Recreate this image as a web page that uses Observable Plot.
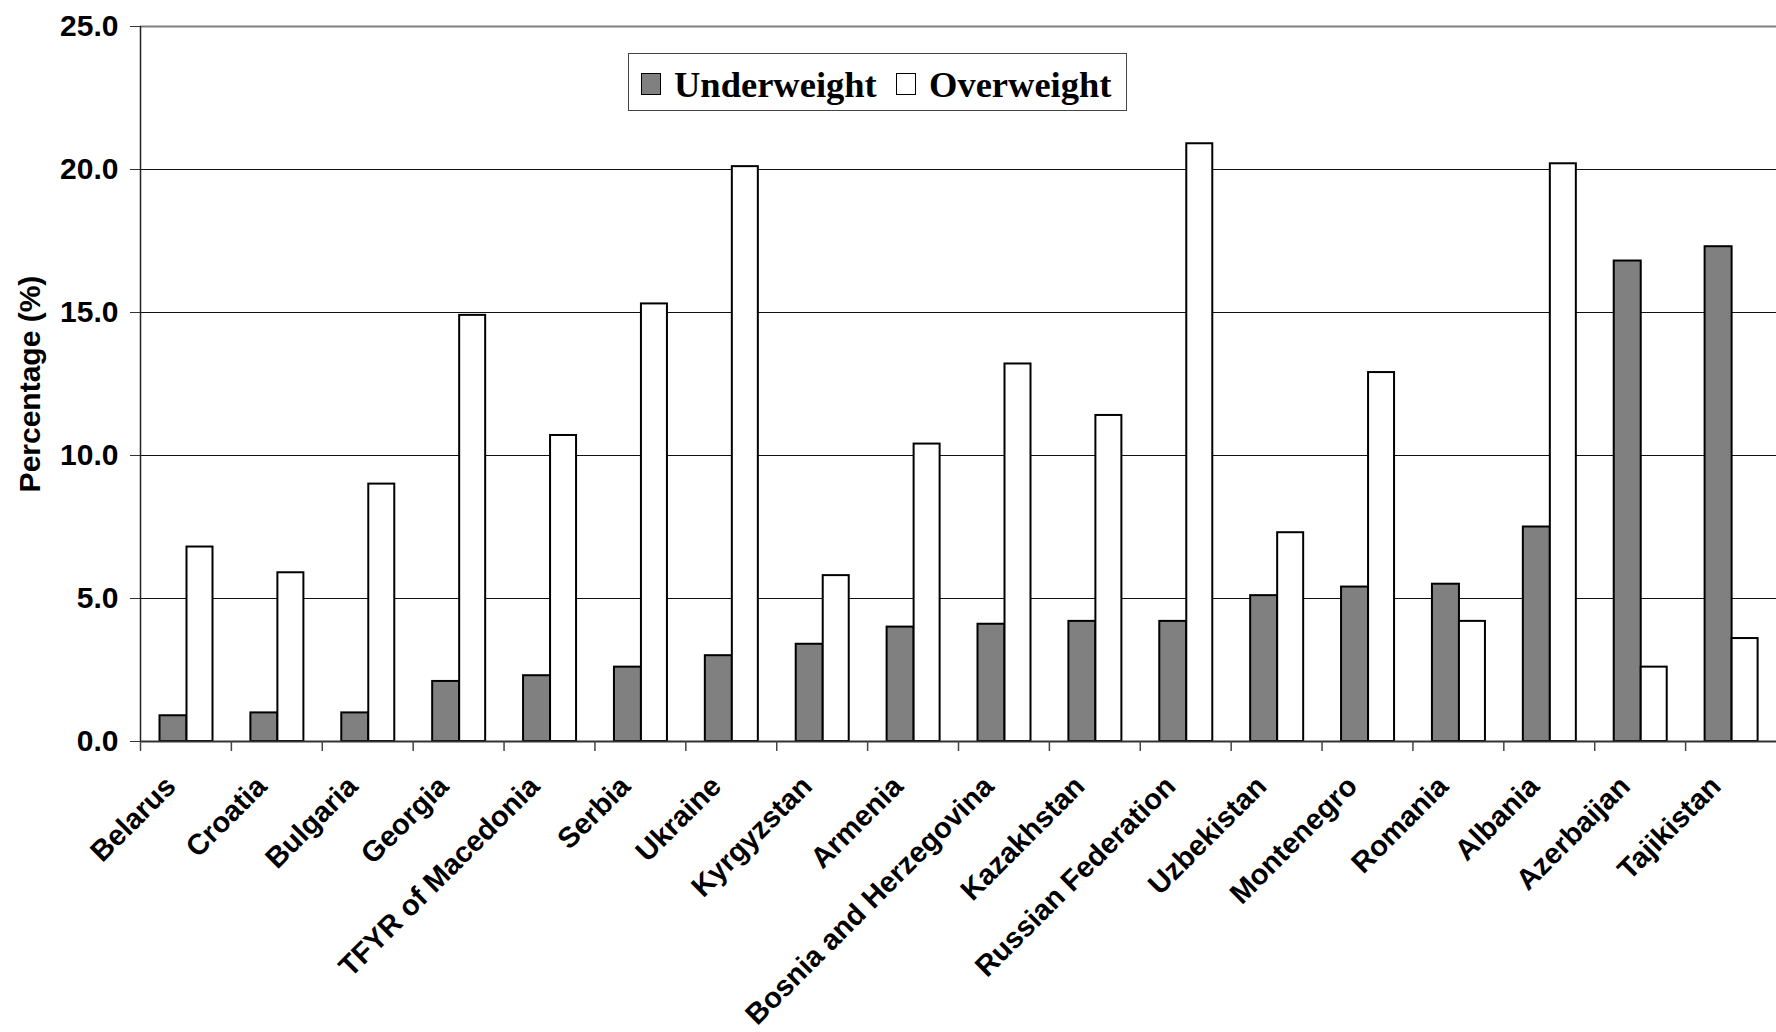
<!DOCTYPE html>
<html>
<head>
<meta charset="utf-8">
<script src="https://cdn.jsdelivr.net/npm/d3@7"></script>
<script src="https://cdn.jsdelivr.net/npm/@observablehq/plot@0.6"></script>
<style>
  html, body { margin: 0; padding: 0; background: #fff; }
  #chart { position: relative; width: 1776px; height: 1032px; }
  #legend {
    position: absolute; left: 628px; top: 53px; width: 497px; height: 56px;
    border: 1.5px solid #444; background: #fff;
    font-family: "Liberation Serif", "Times New Roman", serif; font-weight: bold; font-size: 36.5px;
  }
  #legend .sw { position: absolute; top: 19px; width: 18px; height: 20px; border: 1.5px solid #000; }
  #legend .lb { position: absolute; top: 11px; line-height: 40px; color: #000; }
</style>
</head>
<body>
<div id="chart">
  <div id="legend">
    <span class="sw" style="left:12px;background:#808080"></span><span class="lb" style="left:45px">Underweight</span>
    <span class="sw" style="left:267px;background:#fff"></span><span class="lb" style="left:300px">Overweight</span>
  </div>
</div>
<script>
// Share of children underweight / overweight by country (%)
const countries = [
  "Belarus", "Croatia", "Bulgaria", "Georgia", "TFYR of Macedonia", "Serbia",
  "Ukraine", "Kyrgyzstan", "Armenia", "Bosnia and Herzegovina", "Kazakhstan",
  "Russian Federation", "Uzbekistan", "Montenegro", "Romania", "Albania",
  "Azerbaijan", "Tajikistan"
];
const underweight = [0.9, 1.0, 1.0, 2.1, 2.3, 2.6, 3.0, 3.4, 4.0, 4.1, 4.2, 4.2, 5.1, 5.4, 5.5, 7.5, 16.8, 17.3];
const overweight  = [6.8, 5.9, 9.0, 14.9, 10.7, 15.3, 20.1, 5.8, 10.4, 13.2, 11.4, 20.9, 7.3, 12.9, 4.2, 20.2, 2.6, 3.6];
const yTicks = [0, 5, 10, 15, 20, 25];

const under = countries.map((c, i) => ({country: c, value: underweight[i]}));
const over = countries.map((c, i) => ({country: c, value: overweight[i]}));

const W = 1776, H = 1032;
const mL = 140, mR = 0, mT = 26, mB = 291;
const bw = (W - mL - mR) / countries.length;   // width of one country band
const font = "'Liberation Sans', Arial, sans-serif";

const chart = Plot.plot({
  width: W,
  height: H,
  marginLeft: mL,
  marginRight: mR,
  marginTop: mT,
  marginBottom: mB,
  style: {fontFamily: font, background: "#fff", color: "#000"},
  x: {domain: countries, padding: 0, round: false, axis: null},
  y: {domain: [0, 25], axis: null},
  marks: [
    // horizontal grid
    Plot.ruleY(yTicks.filter(d => d > 0 && d < 25), {stroke: "#111", strokeWidth: 1}),
    Plot.ruleY([25], {stroke: "#808080", strokeWidth: 2}),
    // bars
    Plot.barY(under, {x: "country", y: "value", fill: "#808080", stroke: "#000", strokeWidth: 2,
      insetLeft: 19.5, insetRight: bw - 46.5}),
    Plot.barY(over, {x: "country", y: "value", fill: "#fff", stroke: "#000", strokeWidth: 2,
      insetLeft: 46.5, insetRight: bw - 72.5}),
    // axis lines
    Plot.ruleY([0], {stroke: "#333", strokeWidth: 2}),
    Plot.ruleX([countries[0]], {y1: 0, y2: 25, dx: -bw / 2, stroke: "#222", strokeWidth: 1.5}),
    // category boundary ticks
    Plot.ruleX(countries, {y1: 0, y2: 0, dx: -bw / 2, insetBottom: -10, stroke: "#444", strokeWidth: 1.5}),
    // y axis
    Plot.axisY(yTicks, {tickSize: 10, tickPadding: 12, tickFormat: d3.format(".1f"),
      fontSize: 30, fontWeight: "bold", stroke: "#333", label: null}),
    Plot.text(["Percentage (%)"], {frameAnchor: "left", dx: -110, rotate: -90,
      textAnchor: "middle", lineAnchor: "middle", fontSize: 30, fontWeight: "bold", fill: "#000"}),
    // rotated country labels
    Plot.text(countries, {x: d => d, frameAnchor: "bottom", dx: -15, dy: 40, rotate: -45,
      textAnchor: "end", lineAnchor: "middle", fontSize: 29, fontWeight: "bold", fill: "#000"})
  ]
});

document.getElementById("chart").prepend(chart);
</script>
</body>
</html>
